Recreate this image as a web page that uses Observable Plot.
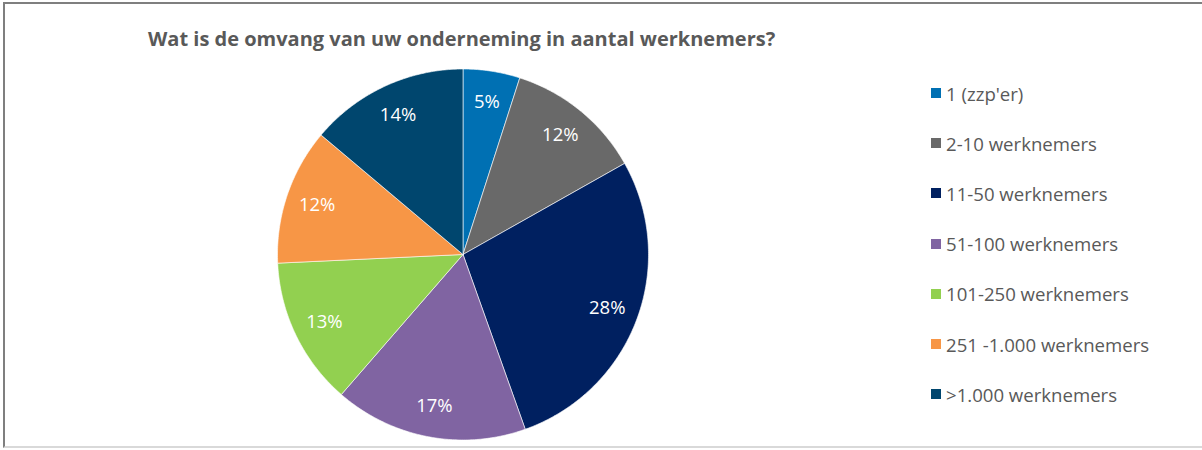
<!DOCTYPE html>
<html>
<head>
<meta charset="utf-8">
<script src="https://cdn.jsdelivr.net/npm/d3@7"></script>
<script src="https://cdn.jsdelivr.net/npm/@observablehq/plot@0.6"></script>
<style>
  html, body { margin: 0; padding: 0; background: #fff; overflow: hidden; }
  #wrap { position: relative; width: 1202px; height: 450px; overflow: hidden; font-family: "Open Sans", sans-serif; }
  #frame { position: absolute; left: 3px; top: 2px; width: 1210px; height: 446px; border-left: 2px solid #7f7f7f; border-top: 2px solid #7f7f7f; border-bottom: 2px solid #d9d9d9; box-sizing: border-box; }
  #title { position: absolute; left: 148px; top: 26px; font-weight: bold; font-size: 20px; color: #595959; white-space: nowrap; line-height: 26px; }
  #legend { position: absolute; left: 931px; top: 81px; }
  .item { position: absolute; left: 0; height: 24px; display: flex; align-items: center; white-space: nowrap; color: #595959; font-size: 18.6px; }
  .sw { width: 10px; height: 10px; margin-right: 5px; }
  #chart { position: absolute; left: 0; top: 0; }
</style>
</head>
<body>
<div id="wrap">
  <div id="frame"></div>
  <div id="title"></div>
  <div id="legend"></div>
  <div id="chart"></div>
</div>
<script>
const title = "Wat is de omvang van uw onderneming in aantal werknemers?";
const categories = ["1 (zzp'er)", "2-10 werknemers", "11-50 werknemers", "51-100 werknemers", "101-250 werknemers", "251 -1.000 werknemers", ">1.000 werknemers"];
const values = [5, 12, 28, 17, 13, 12, 14];
const labels = ["5%", "12%", "28%", "17%", "13%", "12%", "14%"];
const colors = ["#0070b3", "#696969", "#002060", "#8064a2", "#92d050", "#f79646", "#00466e"];

document.getElementById("title").textContent = title;

// legend
const legend = document.getElementById("legend");
categories.forEach((c, i) => {
  const d = document.createElement("div");
  d.className = "item";
  d.style.top = (i * 50.2) + "px";
  const sw = document.createElement("span");
  sw.className = "sw";
  sw.style.background = colors[i];
  const t = document.createElement("span");
  t.textContent = c;
  d.appendChild(sw); d.appendChild(t);
  legend.appendChild(d);
});

// pie geometry from data
const table = categories.map((c, i) => ({cat: c, value: values[i], label: labels[i]}));
const arcs = d3.pie().sort(null).value(d => d.value)(table);
const pts = [];
const labPts = [];
arcs.forEach(a => {
  const c = a.data.cat;
  pts.push({cat: c, x: 0, y: 0});
  const n = Math.max(2, Math.ceil((a.endAngle - a.startAngle) / 0.01));
  for (let k = 0; k <= n; k++) {
    const t = a.startAngle + (a.endAngle - a.startAngle) * k / n;
    pts.push({cat: c, x: Math.sin(t), y: Math.cos(t)});
  }
  pts.push({cat: c, x: 0, y: 0});
  const m = (a.startAngle + a.endAngle) / 2;
  labPts.push({cat: c, label: a.data.label, x: 0.83 * Math.sin(m), y: 0.83 * Math.cos(m)});
});

const cx = 462.5, cy = 254, r = 185.5;
const plot = Plot.plot({
  width: 1202,
  height: 450,
  margin: 0,
  style: {background: "transparent", overflow: "visible"},
  x: {domain: [-1, 1], range: [cx - r, cx + r], axis: null},
  y: {domain: [-1, 1], range: [cy + r, cy - r], axis: null},
  color: {domain: categories, range: colors},
  marks: [
    Plot.line(pts, {x: "x", y: "y", z: "cat", fill: "cat", stroke: "white", strokeWidth: 0.6, strokeLinejoin: "round", curve: "linear"}),
    Plot.text(labPts, {x: "x", y: "y", text: "label", fill: "white", fontSize: 18.5, fontFamily: "'Open Sans', sans-serif"})
  ]
});
document.getElementById("chart").appendChild(plot);
</script>
</body>
</html>
